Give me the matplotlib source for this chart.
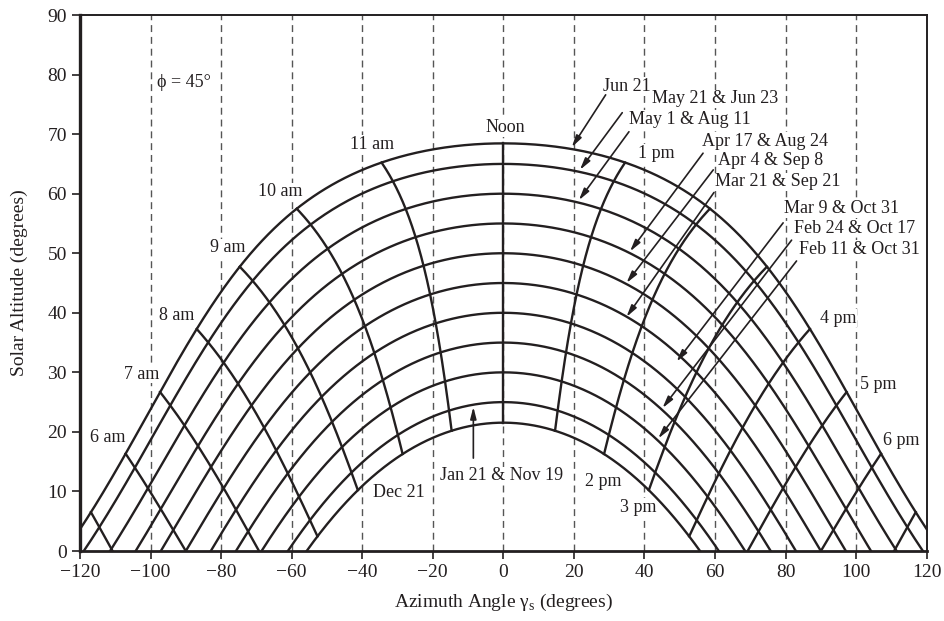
import numpy as np
import matplotlib.pyplot as plt

plt.rcParams['font.family'] = ['Liberation Serif', 'DejaVu Serif']
plt.rcParams['mathtext.fontset'] = 'custom'
plt.rcParams['mathtext.rm'] = 'Liberation Serif'

INK = '#231f20'

# site latitude (degrees)
latitude = 45.0

# noon altitude of each date curve (degrees), Jun 21 down to Dec 21
noon_altitude = [68.45, 65, 60, 55, 50, 45, 40, 35, 30, 25, 21.55]
date_names = ['Jun 21', 'May 21 & Jun 23', 'May 1 & Aug 11', 'Apr 17 & Aug 24',
              'Apr 4 & Sep 8', 'Mar 21 & Sep 21', 'Mar 9 & Oct 31',
              'Feb 24 & Oct 17', 'Feb 11 & Oct 31', 'Jan 21 & Nov 19', 'Dec 21']

# hours from solar noon for the hour lines (5 am .. 7 pm)
hours_from_noon = [-7, -6, -5, -4, -3, -2, -1, 0, 1, 2, 3, 4, 5, 6, 7]

# hour labels: text, azimuth, altitude
hour_labels = [('6 am', -112.2, 19.1), ('7 am', -102.5, 29.7), ('8 am', -92.6, 39.5),
               ('9 am', -78.0, 50.9), ('10 am', -63.3, 60.3), ('11 am', -37.2, 68.3),
               ('Noon', 0.5, 71.1), ('1 pm', 43.3, 66.8), ('2 pm', 28.2, 11.6),
               ('3 pm', 38.2, 7.3), ('4 pm', 94.8, 39.1), ('5 pm', 106.3, 27.9),
               ('6 pm', 112.7, 18.6)]

# date labels with arrows: text, label centre, arrow tail, arrow head
date_arrows = [
    ('Jun 21', (35.0, 78.0), (29.0, 76.6), (19.4, 67.8)),
    ('May 21 & Jun 23', (60.0, 75.9), (33.7, 73.6), (21.7, 64.0)),
    ('May 1 & Aug 11', (52.9, 72.5), (35.6, 70.4), (21.4, 58.9)),
    ('Apr 17 & Aug 24', (74.2, 68.8), (56.6, 66.8), (35.9, 50.3)),
    ('Apr 4 & Sep 8', (75.6, 65.6), (59.5, 64.0), (34.9, 45.0)),
    ('Mar 21 & Sep 21', (77.7, 62.0), (59.7, 60.2), (34.9, 39.3)),
    ('Mar 9 & Oct 31', (96.0, 57.5), (79.3, 55.1), (49.1, 31.8)),
    ('Feb 24 & Oct 17', (99.5, 54.2), (81.7, 52.2), (45.1, 24.0)),
    ('Feb 11 & Oct 31', (100.9, 50.7), (83.1, 48.7), (43.9, 18.9)),
    ('Jan 21 & Nov 19', (-0.5, 12.6), (-8.5, 15.6), (-8.5, 24.2)),
]


def sun_position(decl, hour_angle):
    """Azimuth (from south, + west) and altitude in degrees."""
    phi = np.radians(latitude)
    d = np.radians(decl)
    h = np.radians(hour_angle)
    sin_alt = np.sin(phi) * np.sin(d) + np.cos(phi) * np.cos(d) * np.cos(h)
    alt = np.arcsin(np.clip(sin_alt, -1, 1))
    cos_az = (np.sin(alt) * np.sin(phi) - np.sin(d)) / (np.cos(alt) * np.cos(phi))
    az = np.sign(h) * np.arccos(np.clip(cos_az, -1, 1))
    return np.degrees(az), np.degrees(alt)


fig = plt.figure(figsize=(9.44, 6.21), dpi=100)
ax = fig.add_axes([0.0847, 0.1127, 0.8970, 0.8631])

for x in range(-100, 101, 20):
    ax.axvline(x, color='#555555', lw=1.0, dashes=(5, 3.5), zorder=1)

declinations = [a - (90 - latitude) for a in noon_altitude]

# date curves
for decl in declinations:
    hs = np.degrees(np.arccos(-np.tan(np.radians(latitude)) * np.tan(np.radians(decl))))
    h = np.linspace(-hs, hs, 600)
    az, alt = sun_position(decl, h)
    ax.plot(az, alt, color=INK, lw=1.7, zorder=3)

# hour lines
d_all = np.linspace(min(declinations), max(declinations), 400)
for hr in hours_from_noon:
    az, alt = sun_position(d_all, np.full_like(d_all, 15.0 * hr))
    keep = alt >= 0
    if keep.sum() < 2:
        continue
    ax.plot(az[keep], alt[keep], color=INK, lw=1.7, zorder=3)

fs = 13
box = dict(facecolor='white', edgecolor='none', pad=0.5)
for text, x, y in hour_labels:
    ax.text(x, y, text, fontsize=fs, color=INK, ha='center', va='center',
            bbox=box, zorder=2)

for text, (tx, ty), (x0, y0), (x1, y1) in date_arrows:
    ax.text(tx, ty, text, fontsize=fs, color=INK, ha='center', va='center',
            bbox=box, zorder=2)
    ax.annotate('', xy=(x1, y1), xytext=(x0, y0),
                arrowprops=dict(arrowstyle='-|>,head_length=0.7,head_width=0.18',
                                color=INK, lw=1.2, shrinkA=0, shrinkB=0),
                zorder=4)

ax.text(-29.6, 9.9, 'Dec 21', fontsize=fs, color=INK, ha='center', va='center',
        bbox=box, zorder=2)
ax.text(-98.3, 78.6, 'ϕ = 45°', fontsize=fs, color=INK, ha='left', va='center',
        zorder=2)

ax.set_xlim(-120, 120)
ax.set_ylim(0, 90)
ax.set_xticks(range(-120, 121, 20))
ax.set_yticks(range(0, 91, 10))
ax.tick_params(direction='out', length=6, width=1.2, colors=INK, labelsize=14,
               top=False, right=False)
for side, w in [('left', 2.4), ('bottom', 2.0), ('top', 1.4), ('right', 1.4)]:
    ax.spines[side].set_linewidth(w)
    ax.spines[side].set_color(INK)

ax.set_xlabel('Azimuth Angle γ$_\\mathregular{s}$ (degrees)', fontsize=14,
              color=INK, labelpad=8)
ax.set_ylabel('Solar Altitude (degrees)', fontsize=14, color=INK, labelpad=14)

fig.savefig('out.png', dpi=100)
